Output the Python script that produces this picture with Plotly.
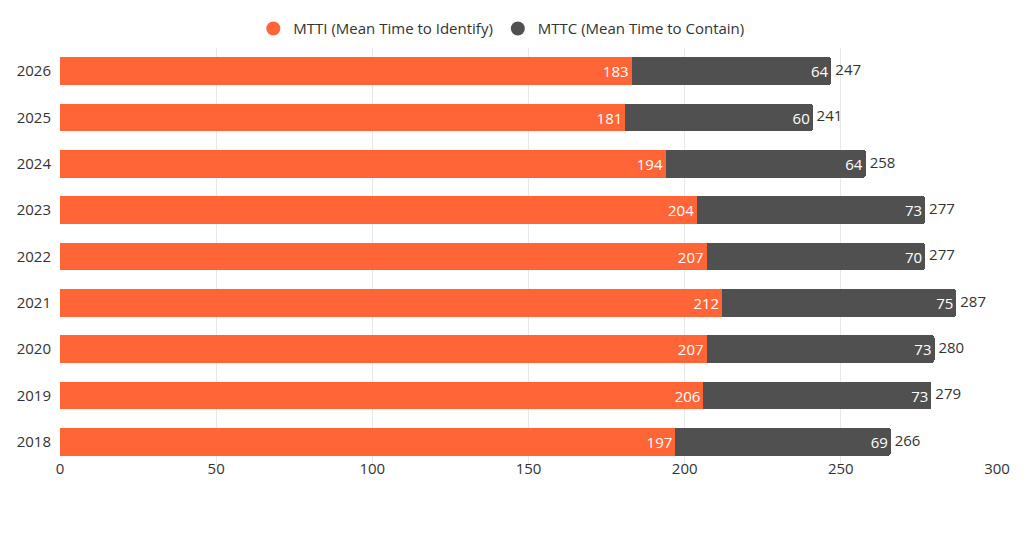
import plotly.graph_objects as go

years = ["2026", "2025", "2024", "2023", "2022", "2021", "2020", "2019", "2018"]
mtti = [183, 181, 194, 204, 207, 212, 207, 206, 197]
mttc = [64, 60, 64, 73, 70, 75, 73, 73, 69]
totals = [a + b for a, b in zip(mtti, mttc)]

ORANGE = "#FF6536"
GRAY = "#505050"
FONT = "Open Sans"
FS = 15

fig = go.Figure()
fig.add_trace(go.Bar(
    y=years, x=mtti, orientation="h", name="MTTI (Mean Time to Identify)",
    marker=dict(color=ORANGE, line=dict(width=0)),
    text=mtti, textposition="inside", insidetextanchor="end",
    textfont=dict(color="white", size=FS, family=FONT),
    showlegend=False,
))
fig.add_trace(go.Bar(
    y=years, x=mttc, orientation="h", name="MTTC (Mean Time to Contain)",
    marker=dict(color=GRAY, line=dict(width=0)),
    text=mttc, textposition="inside", insidetextanchor="end",
    textfont=dict(color="white", size=FS, family=FONT),
    showlegend=False,
))
fig.add_trace(go.Scatter(
    y=years, x=totals, mode="text", text=[" " + str(t) for t in totals],
    textposition="middle right",
    textfont=dict(color="#333333", size=FS, family=FONT),
    showlegend=False, hoverinfo="skip", cliponaxis=False,
))
# legend entries with round markers
for name, color in [("MTTI (Mean Time to Identify)", ORANGE), ("MTTC (Mean Time to Contain)", GRAY)]:
    fig.add_trace(go.Scatter(
        x=[None], y=[None], mode="markers", name=name,
        marker=dict(color=color, size=14, symbol="circle"),
    ))

fig.update_layout(
    barmode="stack", bargap=0.4, barcornerradius=3,
    width=1008, height=520,
    margin=dict(l=52, r=19, t=40, b=63, autoexpand=False),
    plot_bgcolor="white", paper_bgcolor="white",
    font=dict(family=FONT, size=FS, color="#333333"),
    uniformtext=dict(mode="show", minsize=FS),
    legend=dict(orientation="h", x=0.471, xanchor="center", y=1.046, yanchor="middle",
                font=dict(size=FS, color="#333333"), traceorder="normal",
                itemwidth=30),
    xaxis=dict(range=[0, 300], dtick=50, showgrid=True, gridcolor="#e8e8e8",
               zeroline=False, showline=False, ticks="", automargin=False,
               ticklabelstandoff=-7,
               tickfont=dict(size=FS, color="#333333")),
    yaxis=dict(autorange="reversed", showgrid=False, ticks="", automargin=False,
               ticklabelstandoff=8,
               tickfont=dict(size=FS, color="#333333")),
)

fig.write_html("out.html")
